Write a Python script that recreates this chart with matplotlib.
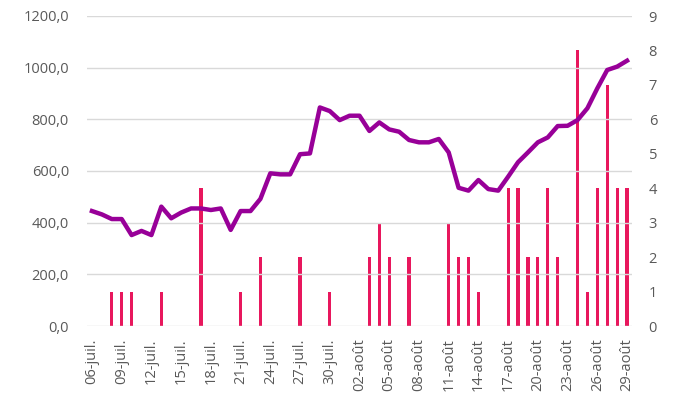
import pandas as pd
import matplotlib
matplotlib.use("Agg")
import matplotlib.pyplot as plt

# Daily categories, 06 July -> 29 August
dates = pd.date_range("2020-07-06", "2020-08-29", freq="D")
month_fr = {7: "juil.", 8: "août"}
date_labels = [f"{d.day:02d}-{month_fr[d.month]}" for d in dates]

# Line series (left axis)
line_values = [445, 432, 414, 414, 352, 368, 352, 462, 417, 439,
               455, 455, 449, 455, 372, 445, 445, 492, 591, 587,
               587, 665, 668, 846, 832, 797, 814, 814, 755, 788,
               761, 752, 720, 711, 711, 724, 672, 535, 524, 565,
               530, 524, 578, 634, 672, 711, 730, 774, 775, 797,
               843, 920, 991, 1004, 1027]

# Bar series (right axis), day index -> count
bar_days = [2, 3, 4, 7, 11, 15, 17, 21, 24, 28, 29, 30, 32, 36, 37, 38, 39,
            42, 43, 44, 45, 46, 47, 49, 50, 51, 52, 53, 54]
bar_counts = [1, 1, 1, 1, 4, 1, 2, 2, 1, 2, 3, 2, 2, 3, 2, 2, 1,
              4, 4, 2, 2, 4, 2, 8, 1, 4, 7, 4, 4]

left_ticks = [0, 200, 400, 600, 800, 1000, 1200]
right_ticks = list(range(0, 10))

plt.rcParams["font.family"] = ["Open Sans", "DejaVu Sans"]
text_color = "#595959"
grid_color = "#D9D9D9"

fig = plt.figure(figsize=(6.74, 4.01), dpi=100)
ax = fig.add_axes([87 / 674, 1 - 326 / 401, 545 / 674, 310 / 401])
ax2 = ax.twinx()

x = list(range(len(dates)))

ax.set_ylim(0, 1200)
ax.set_yticks(left_ticks)
ax.set_yticklabels([f"{v:.1f}".replace(".", ",") for v in left_ticks])
ax.grid(axis="y", color=grid_color, linewidth=1)
ax.set_axisbelow(True)

ax2.bar(bar_days, bar_counts, width=0.32, color="#E8175D", zorder=2)
ax2.set_ylim(0, 9)
ax2.set_yticks(right_ticks)

# line drawn above bars: put ax2 below ax
ax.set_zorder(ax2.get_zorder() + 1)
ax.patch.set_visible(False)
ax.plot(x, line_values, color="#980098", linewidth=3.2, solid_joinstyle="round", zorder=3)

ax.set_xlim(-0.5, len(dates) - 0.5)
ax.set_xticks(x[::3])
ax.set_xticklabels(date_labels[::3], rotation=90)

for a in (ax, ax2):
    for s in a.spines.values():
        s.set_visible(False)
    a.tick_params(length=0, colors=text_color, labelsize=10.5)
ax.tick_params(axis="y", pad=13)
ax2.tick_params(axis="y", pad=12)
ax.tick_params(axis="x", pad=9)

fig.savefig("out.png", dpi=100)
